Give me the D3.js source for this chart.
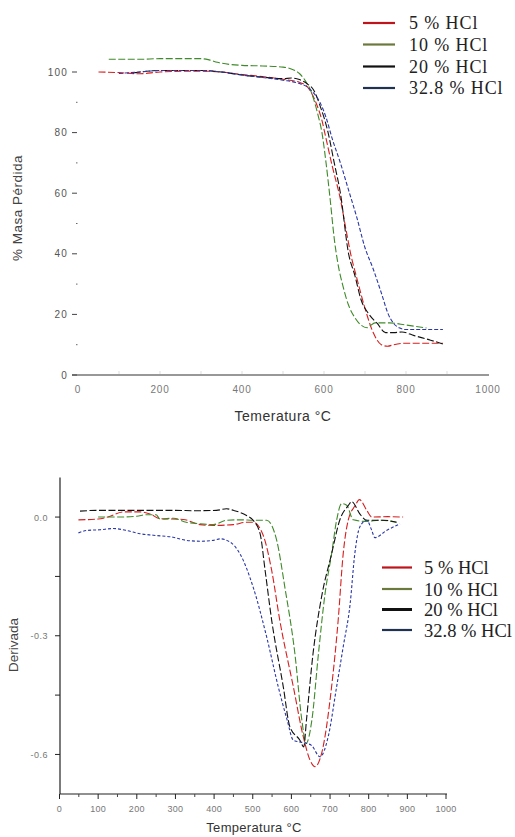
<!DOCTYPE html>
<html><head><meta charset="utf-8">
<script src="https://cdn.jsdelivr.net/npm/d3@7"></script>
<style>
html,body{margin:0;padding:0;background:#fff;}
svg{display:block;}
</style></head>
<body>
<script>
// ---------- DATA ----------
const seriesNames = ["5 % HCl", "10 % HCl", "20 % HCl", "32.8 % HCl"];
const seriesColors = ["#d81e1e", "#3f8a2a", "#111111", "#2a37a6"];
const legendColors = ["#c0141c", "#6b7a3c", "#111111", "#1f3252"];

// Top chart (TGA): temperature (°C) and % mass
const tgaT5  = [50,100,150,200,300,350,400,450,500,540,560,580,595,605,620,640,655,665,680,700,720,740,755,770,800,850,890];
const tgaV5  = [100,99.8,99.4,100,100.3,100,99.2,98.5,97.6,96.6,95,90,84,78,69,58,47,40,32,22,14,10,9.5,10,10.5,10.5,10.5];
const tgaT10 = [75,150,200,250,300,320,340,400,450,500,520,540,555,570,585,595,605,615,625,635,645,660,675,690,705,715,725,760,800,850];
const tgaV10 = [104.2,104.2,104.4,104.4,104.4,104,103.2,102.2,102,101.6,101,99.5,97,93,86,80,70,58,45,36,30,23,19,16.5,15.6,16.5,17.2,17.2,16.5,15.5];
const tgaT20 = [135,200,300,350,400,450,500,520,540,560,575,590,610,625,640,660,675,690,710,730,750,770,790,820,860,895];
const tgaV20 = [99.7,100.5,100.5,100,99,98.3,97.8,98,97.5,96,94,89,80,70,60,40,33,25,20,17,14,14,14.2,13,11.5,10];
const tgaT32 = [100,150,200,300,350,400,450,500,540,560,575,590,605,620,640,660,680,700,720,740,757,770,785,800,850,890];
const tgaV32 = [99.5,100,100.5,100.5,100,99,98.2,97.3,96.2,95,93,90,85,78,70,61,52,42,35,27,20,17,15.5,15,15,15];

const tgaXTicks = [0,200,400,600,800,1000];
const tgaYTicks = [0,20,40,60,80,100];

// Bottom chart (DTG): temperature (°C) and derivative
const dtgT5  = [49,100,125,165,208,234,260,320,363,398,450,484,501,527,549,570,605,631,648,661,678,704,721,734,747,765,776,795,808,850,889];
const dtgV5  = [-0.007,-0.005,0,0.013,0.013,0.008,-0.004,-0.006,-0.019,-0.021,-0.019,-0.013,-0.013,-0.046,-0.135,-0.261,-0.429,-0.556,-0.614,-0.631,-0.598,-0.429,-0.261,-0.093,-0.008,0.029,0.044,0.017,0,0.001,0];
const dtgT10 = [100,150,200,225,250,260,295,328,363,398,432,470,501,536,562,583,609,627,638,653,670,687,704,717,730,743,760,795,829,872];
const dtgV10 = [0,0,0.002,0.006,0.006,-0.005,-0.003,-0.013,-0.017,-0.019,-0.008,-0.007,-0.008,-0.008,-0.059,-0.177,-0.345,-0.513,-0.572,-0.513,-0.345,-0.194,-0.093,-0.008,0.034,0.03,-0.007,-0.011,-0.008,-0.013];
const dtgT20 = [53,100,150,200,250,300,350,406,432,450,484,501,519,532,549,579,596,622,632,639,656,678,704,725,747,756,777,795,838,872];
const dtgV20 = [0.015,0.017,0.017,0.017,0.017,0.017,0.016,0.017,0.021,0.017,0.004,-0.008,-0.042,-0.135,-0.261,-0.429,-0.530,-0.564,-0.581,-0.513,-0.345,-0.202,-0.093,-0.008,0.029,0.039,0.008,-0.008,-0.008,-0.013];
const dtgT32 = [49,70,105,139,174,208,243,294,329,363,398,415,441,467,501,536,566,589,605,639,652,674,695,717,734,752,764,777,795,808,816,846,881];
const dtgV32 = [-0.040,-0.034,-0.032,-0.029,-0.034,-0.042,-0.046,-0.051,-0.059,-0.061,-0.059,-0.055,-0.063,-0.093,-0.177,-0.303,-0.429,-0.513,-0.564,-0.572,-0.577,-0.606,-0.556,-0.429,-0.328,-0.219,-0.093,-0.025,-0.008,-0.034,-0.052,-0.034,-0.017];

const dtgXTicks = [0,100,200,300,400,500,600,700,800,900,1000];
const dtgYTicks = [0,-0.3,-0.6];
const dtgYTickLabels = ["0.0","-0.3","-0.6"];

const tgaSeries = [[tgaT5,tgaV5],[tgaT10,tgaV10],[tgaT20,tgaV20],[tgaT32,tgaV32]];
const dtgSeries = [[dtgT5,dtgV5],[dtgT10,dtgV10],[dtgT20,dtgV20],[dtgT32,dtgV32]];

// ---------- DRAW ----------
const W = 515, H = 837;
const svg = d3.select("body").append("svg").attr("width", W).attr("height", H)
  .style("font-family", "'Liberation Sans', Arial, sans-serif");
svg.append("rect").attr("width", W).attr("height", H).attr("fill", "#fff");

const zip = (a, b) => a.map((t, i) => [t, b[i]]);

// ===== Top chart =====
const x1 = d3.scaleLinear().domain([0, 1000]).range([78, 488]);
const y1 = d3.scaleLinear().domain([0, 100]).range([375, 72]);

const g1 = svg.append("g");
g1.append("line").attr("x1", 72).attr("x2", 489).attr("y1", y1(0)).attr("y2", y1(0))
  .attr("stroke", "#333").attr("stroke-width", 1.2);
g1.selectAll(".xm").data(d3.range(100, 1000, 100)).enter().append("line")
  .attr("x1", d => x1(d)).attr("x2", d => x1(d)).attr("y1", y1(0) - 4).attr("y2", y1(0) - 1)
  .attr("stroke", "#ddd");
g1.selectAll(".xl").data(tgaXTicks).enter().append("text")
  .attr("x", d => x1(d)).attr("y", 393).attr("text-anchor", "middle")
  .attr("font-size", 10).attr("fill", "#777").attr("letter-spacing", 0.8).text(d => d);
g1.selectAll(".yt").data(tgaYTicks).enter().append("line")
  .attr("x1", 72).attr("x2", 77).attr("y1", d => y1(d)).attr("y2", d => y1(d))
  .attr("stroke", "#444");
g1.selectAll(".ym").data([10,30,50,70,90]).enter().append("line")
  .attr("x1", 76).attr("x2", 77.5).attr("y1", d => y1(d)).attr("y2", d => y1(d))
  .attr("stroke", "#666");
g1.selectAll(".yl").data(tgaYTicks).enter().append("text")
  .attr("x", 68).attr("y", d => y1(d) + 3.5).attr("text-anchor", "end")
  .attr("font-size", 10).attr("fill", "#555").attr("letter-spacing", 1.2).text(d => d);
g1.append("text").attr("x", 283).attr("y", 421).attr("text-anchor", "middle")
  .attr("font-size", 14).attr("fill", "#333").attr("letter-spacing", 0.5).text("Temeratura °C");
g1.append("text").attr("transform", "translate(22,208) rotate(-90)").attr("text-anchor", "middle")
  .attr("font-size", 13.5).attr("fill", "#444").attr("letter-spacing", 0.5).text("% Masa Pérdida");

const line1 = d3.line().x(d => x1(d[0])).y(d => y1(d[1])).curve(d3.curveMonotoneX);
tgaSeries.forEach((s, i) => {
  g1.append("path").attr("d", line1(zip(s[0], s[1])))
    .attr("fill", "none").attr("stroke", seriesColors[i]).attr("stroke-width", 1.1)
    .attr("stroke-dasharray", i === 3 ? "4,2" : "7,2.5");
});

const lg1 = svg.append("g").style("font-family", "'Liberation Serif', 'Times New Roman', serif");
[23, 44.5, 66.5, 88].forEach((ly, i) => {
  lg1.append("line").attr("x1", 363).attr("x2", 395).attr("y1", ly).attr("y2", ly)
    .attr("stroke", legendColors[i]).attr("stroke-width", 2.2);
  lg1.append("text").attr("x", 409).attr("y", ly + 6).attr("font-size", 18)
    .attr("letter-spacing", 0.9).attr("fill", "#222").text(seriesNames[i]);
});

// ===== Bottom chart =====
const x2 = d3.scaleLinear().domain([0, 1000]).range([59.5, 446]);
const y2 = d3.scaleLinear().domain([-0.7, 0.1]).range([794, 477.5]);

const g2 = svg.append("g");
g2.append("line").attr("x1", 60).attr("x2", 60).attr("y1", y2(0.1)).attr("y2", y2(-0.7))
  .attr("stroke", "#222").attr("stroke-width", 1.2);
g2.append("line").attr("x1", 60).attr("x2", 447).attr("y1", y2(-0.7)).attr("y2", y2(-0.7))
  .attr("stroke", "#222").attr("stroke-width", 1.2);
g2.selectAll(".yt").data([0, -0.15, -0.3, -0.45, -0.6]).enter().append("line")
  .attr("x1", 55).attr("x2", 60).attr("y1", d => y2(d)).attr("y2", d => y2(d))
  .attr("stroke", "#222");
g2.selectAll(".yl").data(dtgYTicks).enter().append("text")
  .attr("x", 48).attr("y", d => y2(d) + 3.5).attr("text-anchor", "end")
  .attr("font-size", 9).attr("fill", "#777").attr("letter-spacing", 0.5)
  .text((d, i) => dtgYTickLabels[i]);
g2.selectAll(".xt").data(dtgXTicks).enter().append("line")
  .attr("x1", d => x2(d)).attr("x2", d => x2(d)).attr("y1", y2(-0.7)).attr("y2", y2(-0.7) + 5)
  .attr("stroke", "#222");
g2.selectAll(".xm").data(d3.range(50, 1000, 100)).enter().append("line")
  .attr("x1", d => x2(d)).attr("x2", d => x2(d)).attr("y1", y2(-0.7)).attr("y2", y2(-0.7) + 3)
  .attr("stroke", "#444");
g2.selectAll(".xl").data(dtgXTicks).enter().append("text")
  .attr("x", d => x2(d)).attr("y", 812).attr("text-anchor", "middle")
  .attr("font-size", 9).attr("fill", "#777").attr("letter-spacing", 0.3).text(d => d);
g2.append("text").attr("x", 254).attr("y", 832).attr("text-anchor", "middle")
  .attr("font-size", 13).attr("fill", "#333").attr("letter-spacing", 0.3).text("Temperatura °C");
g2.append("text").attr("transform", "translate(18,645) rotate(-90)").attr("text-anchor", "middle")
  .attr("font-size", 13.5).attr("fill", "#444").text("Derivada");

const line2 = d3.line().x(d => x2(d[0])).y(d => y2(d[1])).curve(d3.curveMonotoneX);
dtgSeries.forEach((s, i) => {
  g2.append("path").attr("d", line2(zip(s[0], s[1])))
    .attr("fill", "none").attr("stroke", seriesColors[i]).attr("stroke-width", 1.1)
    .attr("stroke-dasharray", i === 3 ? "3,2" : "7,2.5");
});

const lg2 = svg.append("g").style("font-family", "'Liberation Serif', 'Times New Roman', serif");
[567.5, 589, 609.5, 630].forEach((ly, i) => {
  lg2.append("line").attr("x1", 382).attr("x2", 412).attr("y1", ly).attr("y2", ly)
    .attr("stroke", legendColors[i]).attr("stroke-width", i === 2 ? 3 : 2.2);
  lg2.append("text").attr("x", 424).attr("y", ly + 6.5).attr("font-size", 18.5)
    .attr("fill", "#222").text(seriesNames[i]);
});
</script>
</body></html>
